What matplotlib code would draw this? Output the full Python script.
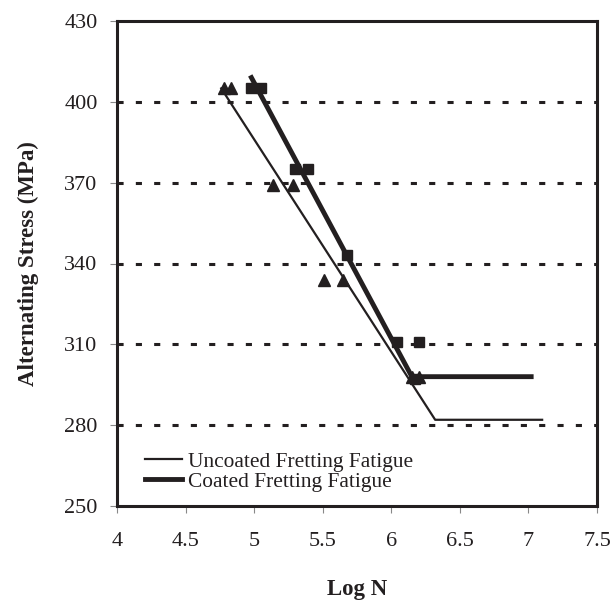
import matplotlib
matplotlib.use("Agg")
import matplotlib.pyplot as plt

# Data
unc_pts_x = [4.78, 4.83, 5.14, 5.28, 5.51, 5.65, 6.15, 6.20]
unc_pts_y = [405, 405, 369, 369, 334, 334, 298, 298]
coat_pts_x = [4.98, 5.05, 5.30, 5.39, 5.68, 6.04, 6.20, 6.17]
coat_pts_y = [405, 405, 375, 375, 343, 311, 311, 297]

unc_line_x = [4.76, 6.32, 7.10]
unc_line_y = [405, 282, 282]
coat_line_x = [4.98, 6.15, 7.02]
coat_line_y = [409, 298, 298]

xticks = [4, 4.5, 5, 5.5, 6, 6.5, 7, 7.5]
yticks = [250, 280, 310, 340, 370, 400, 430]

plt.rcParams['font.family'] = ['Liberation Serif', 'DejaVu Serif']
ink = '#231f20'

fig = plt.figure(figsize=(6.12, 6.04), dpi=100)
ax = fig.add_axes([117/612, 1-506/604, 480/612, 485/604])

for yv in yticks[1:-1]:
    ax.axhline(yv, color=ink, lw=2.2, ls=(0, (2, 4)), zorder=1)

ax.plot(unc_line_x, unc_line_y, color=ink, lw=1.6, label='Uncoated Fretting Fatigue', zorder=3)
ax.plot(coat_line_x, coat_line_y, color=ink, lw=3.5, label='Coated Fretting Fatigue', zorder=3)
ax.plot(unc_pts_x, unc_pts_y, ls='none', marker='^', ms=8, color=ink, zorder=4)
ax.plot(coat_pts_x, coat_pts_y, ls='none', marker='s', ms=7.5, color=ink, zorder=4)

ax.set_xlim(4, 7.5)
ax.set_ylim(250, 430)
ax.set_xticks(xticks)
ax.set_xticklabels(['4', '4.5', '5', '5.5', '6', '6.5', '7', '7.5'])
ax.set_yticks(yticks)
ax.tick_params(axis='both', direction='out', length=5, width=0.8, color='#888888',
               labelsize=16, labelcolor=ink)
ax.tick_params(axis='y', pad=9)
ax.tick_params(axis='x', pad=14)
for s in ax.spines.values():
    s.set_linewidth(2.2)
    s.set_color(ink)

ax.set_xlabel('Log N', fontsize=16.5, fontweight='bold', color=ink, labelpad=20)
ax.set_ylabel('Alternating Stress (MPa)', fontsize=16.5, fontweight='bold', color=ink, labelpad=18)

leg = ax.legend(loc='lower left', bbox_to_anchor=(0.058, 0.029), frameon=False, fontsize=15.4,
                handlelength=1.75, handletextpad=0.25, labelspacing=0.0, borderaxespad=0,
                borderpad=0)
for t in leg.get_texts():
    t.set_color(ink)

fig.savefig('out.png', dpi=100)
